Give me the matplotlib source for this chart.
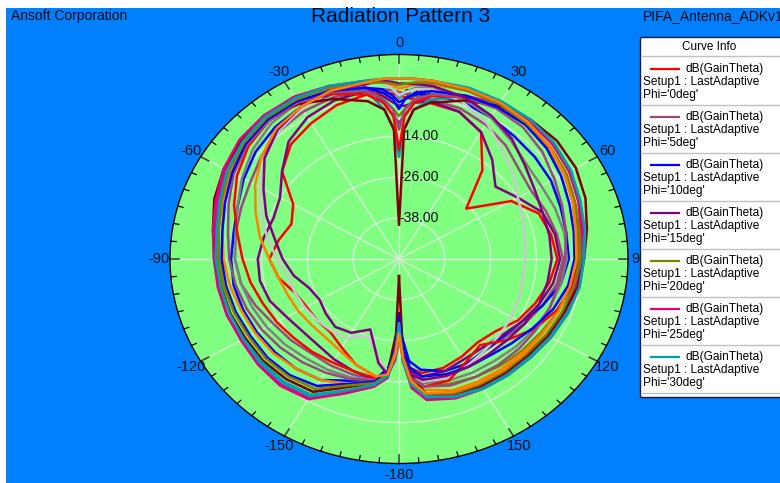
import numpy as np
import matplotlib.pyplot as plt
from matplotlib.patches import Rectangle
from matplotlib.lines import Line2D

plt.rcParams['font.family'] = ['Liberation Sans', 'DejaVu Sans']

# theta samples (deg), denser around the two nulls
theta_deg = [-180, -178, -175, -170, -160, -150, -140, -130, -120, -110, -100,
             -90, -80, -70, -60, -50, -40, -30, -20, -10, -5, -2, 0, 2, 5,
             10, 20, 30, 40, 50, 60, 70, 80, 90, 100, 110, 120, 130, 140,
             150, 160, 170, 175, 178, 180]

# dB(GainTheta) for each phi cut
gain_phi0 = [-28, -22, -16, -15, -17, -20, -22, -22, -22, -21, -18, -16, -18, -20, -18, -10, -6, -4, -2, -1,
             -1, -1.5, -2, -2.5, -3, -3.5, -4, -7, -16, -27, -16, -11, -9.5, -8.5, -10, -12, -14, -17, -18,
             -17, -16, -16, -18, -24, -28]
gain_phi5 = [-26, -20, -16, -14, -14, -14, -14, -13, -12, -10, -8, -7, -6.5, -6, -5, -3, -1, 0, 0.5, 0,
             0, -0.5, -1, -1.5, -2, -2.5, -3, -4.5, -6.5, -9, -10, -9, -8, -7, -8, -10, -12, -14, -15,
             -14, -13, -14, -17, -22, -26]
gain_phi10 = [-34, -25, -18, -14, -12, -9, -8, -7.5, -7, -6.5, -6, -6, -6, -5, -3, -1, 0.5, 1.5, 1.5, 1,
              0, -2, -4, -3, -1.5, -1, -1, -2, -3, -3.5, -4, -5, -5.5, -5.5, -7, -10, -13, -14.5, -15,
              -14.5, -15, -17, -20, -27, -34]
gain_phi15 = [-28, -22, -16, -14, -15, -16, -17, -17, -16, -14, -13, -13, -14, -15, -14, -10, -5, -2, -0.5, 0,
              -2, -4, -5, -5, -4, -3, -4, -7, -12, -17, -14, -10, -8.5, -7.8, -9, -11, -13, -15, -16,
              -16, -15, -15, -17, -23, -28]
gain_phi20 = [-30, -23, -16, -13, -10, -5, -4, -3.5, -3.5, -3, -3, -2.5, -2, -0.5, 1, 2.5, 3.5, 3.5, 2.5, 1,
              -3, -6, -8, -6, -3, -1, 0.5, 1.5, 1.5, 1, 0, -1.5, -2.5, -3, -4, -5.5, -7, -8, -9,
              -10, -11, -12, -15, -22, -30]
gain_phi25 = [-30, -22, -15, -12, -8, -3, -2, -2, -2.5, -2, -2, -1.8, -1, 0.5, 2.5, 4, 5, 4.5, 3, 1.5,
              -4, -8, -10, -8, -4, -1, 1, 2.5, 3, 2.5, 1.5, 0, -1.5, -2, -3, -4, -5, -6, -6.5,
              -7, -7.5, -9, -13, -20, -30]
gain_phi30 = [-32, -22, -15, -12.5, -8.5, -3.5, -2.5, -2.5, -2.5, -2, -2, -1.5, -0.5, 1, 3, 4.5, 5, 4, 2.5, 0.5,
              -6, -12, -20, -12, -6, -2.5, 0.5, 2, 3, 3, 2, 0.5, -1, -1.8, -2.5, -3.5, -4.5, -5.5, -6,
              -6.5, -7, -8.5, -13, -21, -32]
gain_phi35 = [-29, -22, -16, -13.5, -11, -9, -8, -7, -6.5, -6, -5, -4, -3, -1, 1, 3, 4, 4, 3.5, 2.5,
              2, 1, 0, 0.5, 1.5, 2, 2.5, 2.5, 2, 1, 0, -1.5, -3, -3.5, -4.5, -5.5, -6.5, -7.5, -8,
              -8.5, -9, -11, -15, -22, -29]
gain_phi40 = [-27, -22, -16, -14, -13, -12.5, -12, -11, -10, -9, -8, -7, -6.5, -5, -2.5, 0, 2, 3, 3.5, 3,
              2, 0, -3, -1, 0.5, 1, 0, -2, -4.5, -6.5, -7, -6.5, -6, -6, -7, -8, -9, -10, -11,
              -11.5, -12, -13, -16, -22, -27]
gain_phi45 = [-27, -22, -17, -20, -26, -23, -22.5, -22, -21.5, -21, -20.5, -18, -15, -11.5, -8, -4, -1, 1, 2, 2,
              2, 0, -2, -1, 0, 0.5, -1, -4, -8, -11, -14, -15.5, -16.5, -17, -17, -16.5, -16, -15.5, -15,
              -14, -13, -13.5, -16, -22, -27]
gain_phi50 = [-45, -28, -17, -13, -10, -5, -4, -3.5, -3.5, -3, -2.5, -1.8, -0.5, 1.5, 3, 4, 4, 2.5, 0, -3,
              -6, -12, -40, -12, -6, -3.5, -0.5, 2, 3.5, 4, 3.5, 2, 0, -1.5, -2.5, -4, -5, -6, -6.5,
              -7, -8, -10, -16, -27, -45]
gain_phi55 = [-30, -22, -16, -14.5, -15, -15, -14.5, -14, -13, -12, -10.5, -9, -7, -4, -1, 1.5, 3, 3, 1.5, -1,
              -4, -8, -18, -8, -4, -1.5, 0.5, 1.5, 2, 1.5, 0.5, -1, -2, -2.5, -4, -6, -9, -13, -17,
              -15, -12, -12, -15, -22, -30]
gain_phi60 = [-28, -22, -16, -14, -12.5, -11.5, -10.5, -9.5, -8.5, -7.5, -6.5, -5.5, -4.5, -2.5, 0, 2, 3, 3, 2, 0,
              -3, -6, -12, -6, -3, -1, 0.5, 1, 0.5, -1, -3, -4.5, -5.5, -6.5, -7.5, -8, -8.5, -9, -9.5,
              -10, -10.5, -12, -15, -22, -28]
gain_phi65 = [-33, -24, -17, -13.5, -11, -7, -5.5, -5, -5, -4.5, -4, -3.5, -3, -1.5, 0.5, 2.5, 3.5, 3.5, 2.5, 1,
              -1, -3, -6, -3, -1, 0, 1, 1.5, 1.5, 0.5, -1, -2.5, -3.5, -4, -5, -7, -9.5, -11.5, -13,
              -13.5, -14, -15, -18, -26, -33]
gain_phi70 = [-28, -22, -16, -19, -28, -25, -24, -25, -26, -25, -22, -19.5, -17, -13, -9, -4, -0.5, 1.5, 2.5, 2,
              2.5, 2, 1.5, 1.5, 1.5, 1.5, 0.5, -1.5, -4, -7, -9, -10, -10, -10, -10.5, -11, -12, -13, -13.5,
              -13.5, -13.5, -14, -16, -22, -28]
gain_phi75 = [-30, -23, -16, -13, -10.5, -6, -5, -4.5, -4.5, -4, -3.5, -2.8, -2, -0.5, 1.5, 3, 4, 4, 3.5, 2.5,
              2, 1.5, 1, 1.5, 2, 2.5, 2.5, 2.5, 2, 1.5, 0.5, -1, -2, -2.5, -3.5, -4.5, -5.5, -6.5, -7,
              -7.5, -8, -10, -14, -21, -30]
gain_phi80 = [-30, -22, -15, -12, -8, -2.5, -1.5, -1.8, -2.2, -2, -1.8, -1.5, -0.5, 1, 3, 4.5, 5, 5, 4, 3,
              3, 3, 3, 3, 3, 3, 3, 3, 3, 2.5, 1.5, 0, -1, -1.5, -2, -3, -4, -5, -5.5,
              -6, -6.5, -8, -12, -20, -30]
gain_phi85 = [-31, -22, -15.5, -12.5, -9, -4, -3, -3, -3, -2.8, -2.5, -2, -1.5, 0, 2, 3.5, 4.5, 4.5, 4, 3,
              3, 3, 3, 3, 3, 3, 3.5, 3.5, 3.5, 3, 2, 0.5, -0.5, -1.5, -2, -3, -4, -5, -5.5,
              -6, -7, -9, -13, -20, -31]
gain_phi90 = [-28, -22, -16, -15, -17, -19, -20, -20, -19.5, -19, -18, -16, -13, -10, -6.5, -3, 0, 1.5, 2.5, 2.5,
              3, 3, 3, 3, 3, 3, 3, 3, 2.5, 1.5, 0, -1.5, -3, -3.5, -4.5, -5.5, -6.5, -7, -7.5,
              -8, -8.5, -10, -14, -21, -28]

phis = [0, 5, 10, 15, 20, 25, 30, 35, 40, 45, 50, 55, 60, 65, 70, 75, 80, 85, 90]
gains = [gain_phi0, gain_phi5, gain_phi10, gain_phi15, gain_phi20, gain_phi25, gain_phi30,
         gain_phi35, gain_phi40, gain_phi45, gain_phi50, gain_phi55, gain_phi60, gain_phi65,
         gain_phi70, gain_phi75, gain_phi80, gain_phi85, gain_phi90]
trace_colors = ['#ff0000', '#9a4a7c', '#0000ff', '#800080', '#808000', '#e6007e',
                '#00a0b4', '#ff8000', '#808080', '#c8c8c8', '#800000']

ring_values = [-38, -26, -14, -2]
angle_ticks = [0, 30, 60, 90, 120, 150, 180, 210, 240, 270, 300, 330]
angle_labels = ['0', '30', '60', '90', '120', '150', '-180', '-150', '-120', '-90', '-60', '-30']
r_min, r_max = -50, 10

W, H = 780, 483
fig = plt.figure(figsize=(W / 100, H / 100), dpi=100)
fig.patch.set_facecolor('white')
fig.add_artist(Rectangle((6 / W, 0), 1, 1 - 8 / H, transform=fig.transFigure,
                         facecolor='#0080ff', edgecolor='none', zorder=0))

cx, cy, rx, ry = 399, 259, 229, 204.5
ax = fig.add_axes([(cx - rx) / W, (H - cy - ry) / H, 2 * rx / W, 2 * ry / H],
                  projection='polar')
ax.set_aspect('auto')
ax.set_facecolor('#80ff80')
ax.set_theta_zero_location('N')
ax.set_theta_direction(-1)

th = np.deg2rad(theta_deg)
for i, g in enumerate(gains):
    ax.plot(th, g, color=trace_colors[i % len(trace_colors)], lw=1.8, zorder=3 + i * 0.01)

# grid, labels and the inward tick marks on the rim
ax.set_xticks(np.deg2rad(angle_ticks))
ax.set_xticklabels(angle_labels, fontsize=10.5, color='#111111')
ax.set_thetalim(0, 2 * np.pi)
ax.tick_params(axis='x', which='major', length=0, pad=1)
ax.set_ylim(r_min, r_max)
ax.set_yticks(ring_values)
ax.set_yticklabels([])
ax.grid(True, color='#d6ecd6', lw=1.0)
ax.spines['polar'].set_color('black')
ax.spines['polar'].set_linewidth(1.0)

for a in range(0, 360, 5):
    major = a % 30 == 0
    t = np.deg2rad(a)
    ax.plot([t, t], [r_max - (2.4 if major else 1.4), r_max],
            color='#404040' if major else 'black', lw=1.2 if major else 0.9,
            zorder=2.5, clip_on=False)

for r in ring_values:
    ax.text(0, r, f'{r:.2f}', fontsize=10, ha='left', va='center',
            color='#111111', zorder=2)

# header texts
fig.text(11 / W, 1 - 16 / H, 'Ansoft Corporation', fontsize=10, color='#0a0a14',
         va='center', ha='left')
fig.text(401 / W, 1 - 17 / H, 'Radiation Pattern 3', fontsize=15, color='#0a0a14',
         va='center', ha='center')
fig.text(643 / W, 1 - 16 / H, 'PIFA_Antenna_ADKv1', fontsize=10, color='#0a0a14',
         va='center', ha='left')


# curve info box
def fx(px):
    return px / W


def fy(py):
    return 1 - py / H


fig.add_artist(Rectangle((fx(640), fy(397)), 1, (397 - 37) / H, transform=fig.transFigure,
                         facecolor='white', edgecolor='#1a1a30', lw=1.0, zorder=5))
fig.text(fx(709), fy(47), 'Curve Info', fontsize=8.5, ha='center', va='center', zorder=6)
fig.add_artist(Line2D([fx(641), 1], [fy(56), fy(56)], transform=fig.transFigure,
                      color='#c0c0c0', lw=1.0, zorder=6))
for k, phi in enumerate(phis[:7]):
    top = 57 + 48 * k
    fig.add_artist(Line2D([fx(651), fx(679)], [fy(top + 12), fy(top + 12)],
                          transform=fig.transFigure, color=trace_colors[k], lw=1.6, zorder=6))
    fig.text(fx(686), fy(top + 12), 'dB(GainTheta)', fontsize=8.6, ha='left', va='center', zorder=6)
    fig.text(fx(643), fy(top + 25), 'Setup1 : LastAdaptive', fontsize=8.6, ha='left',
             va='center', zorder=6)
    fig.text(fx(643), fy(top + 38), f"Phi='{phi}deg'", fontsize=8.6, ha='left',
             va='center', zorder=6)
    fig.add_artist(Line2D([fx(641), 1], [fy(top + 48), fy(top + 48)], transform=fig.transFigure,
                          color='#c0c0c0', lw=1.0, zorder=6))

fig.savefig('out.png', dpi=100, facecolor=fig.get_facecolor())
